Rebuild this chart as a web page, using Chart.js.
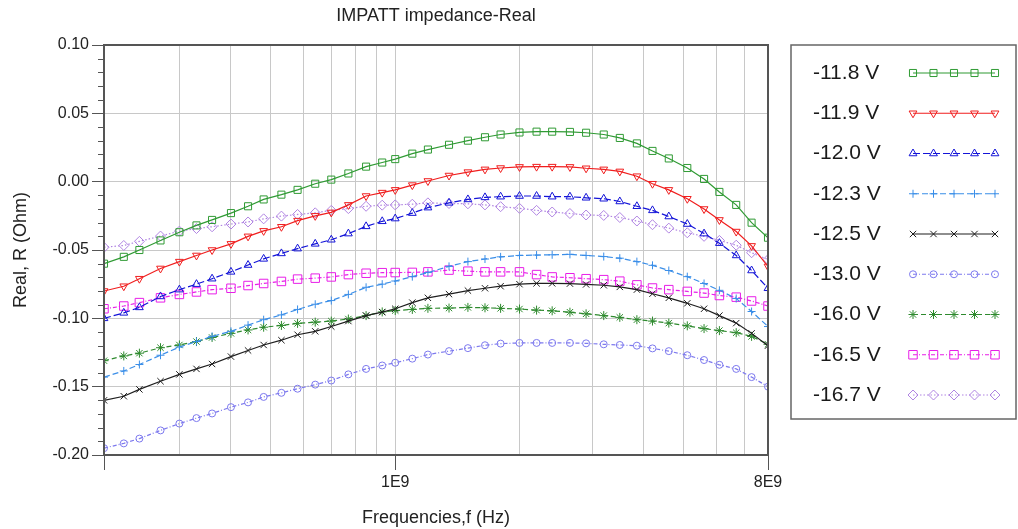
<!DOCTYPE html>
<html>
<head>
<meta charset="utf-8">
<script src="https://cdn.jsdelivr.net/npm/chart.js@4.4.1/dist/chart.umd.min.js"></script>
<style>
  html, body { margin: 0; padding: 0; background: #fff; }
  #wrap { width: 1018px; height: 529px; }
</style>
</head>
<body>
<div id="wrap"><canvas id="impChart" width="1018" height="529"></canvas></div>
<script>
// Frequencies (Hz)
const freqs = [1.97e8, 2.2e8, 2.4e8, 2.7e8, 3.0e8, 3.3e8, 3.6e8, 4.0e8, 4.4e8, 4.8e8,
               5.3e8, 5.8e8, 6.4e8, 7.0e8, 7.7e8, 8.5e8, 9.3e8, 1.0e9, 1.1e9, 1.2e9,
               1.35e9, 1.5e9, 1.65e9, 1.8e9, 2.0e9, 2.2e9, 2.4e9, 2.65e9, 2.9e9, 3.2e9,
               3.5e9, 3.85e9, 4.2e9, 4.6e9, 5.1e9, 5.6e9, 6.1e9, 6.7e9, 7.3e9, 8.0e9];

// Real part R (Ohm) for each bias voltage
const r118 = [-0.060, -0.055, -0.050, -0.043, -0.037, -0.032, -0.028, -0.023, -0.018, -0.013,
              -0.0095, -0.006, -0.0015, 0.0015, 0.006, 0.011, 0.014, 0.0165, 0.0205, 0.0235,
              0.027, 0.030, 0.0325, 0.0345, 0.036, 0.0366, 0.0366, 0.0364, 0.0358, 0.0345,
              0.032, 0.028, 0.0225, 0.017, 0.010, 0.002, -0.0075, -0.017, -0.030, -0.041];
const r119 = [-0.080, -0.0765, -0.071, -0.0635, -0.0585, -0.054, -0.050, -0.0455, -0.040, -0.036,
              -0.033, -0.0285, -0.025, -0.0225, -0.017, -0.0105, -0.008, -0.006, -0.0025, 0.0005,
              0.0045, 0.007, 0.009, 0.010, 0.0108, 0.011, 0.011, 0.0108, 0.0098, 0.009,
              0.0075, 0.004, -0.0015, -0.006, -0.0125, -0.020, -0.028, -0.0365, -0.047, -0.062];
const r120 = [-0.100, -0.096, -0.092, -0.084, -0.079, -0.075, -0.071, -0.066, -0.061, -0.0565,
              -0.0525, -0.049, -0.0455, -0.0425, -0.038, -0.0327, -0.029, -0.027, -0.023, -0.019,
              -0.0155, -0.013, -0.0115, -0.011, -0.0105, -0.0105, -0.011, -0.011, -0.0118, -0.0125,
              -0.0145, -0.018, -0.021, -0.0255, -0.031, -0.038, -0.045, -0.054, -0.065, -0.078];
const r123 = [-0.143, -0.1385, -0.1338, -0.127, -0.121, -0.117, -0.1132, -0.1095, -0.105, -0.101,
              -0.0975, -0.0935, -0.0897, -0.087, -0.0825, -0.0773, -0.075, -0.0727, -0.0695, -0.0665,
              -0.062, -0.0585, -0.0566, -0.055, -0.054, -0.0537, -0.0535, -0.0532, -0.054, -0.0548,
              -0.056, -0.0585, -0.0612, -0.065, -0.0695, -0.0745, -0.0795, -0.0855, -0.095, -0.106];
const r125 = [-0.160, -0.157, -0.152, -0.146, -0.141, -0.137, -0.1334, -0.128, -0.1235, -0.1195,
              -0.116, -0.112, -0.1095, -0.106, -0.102, -0.098, -0.0955, -0.093, -0.0885, -0.085,
              -0.0823, -0.0797, -0.078, -0.0765, -0.075, -0.0744, -0.0744, -0.0746, -0.0752, -0.0758,
              -0.077, -0.079, -0.082, -0.085, -0.089, -0.093, -0.098, -0.1035, -0.111, -0.120];
const r130 = [-0.195, -0.1915, -0.188, -0.182, -0.177, -0.173, -0.1696, -0.165, -0.1615, -0.1575,
              -0.1545, -0.1515, -0.1485, -0.1455, -0.141, -0.137, -0.1345, -0.1325, -0.1295, -0.1265,
              -0.124, -0.1218, -0.1197, -0.1185, -0.118, -0.118, -0.118, -0.118, -0.1183, -0.119,
              -0.1195, -0.120, -0.122, -0.124, -0.127, -0.1305, -0.134, -0.137, -0.143, -0.150];
const r160 = [-0.131, -0.1275, -0.1255, -0.1215, -0.1195, -0.117, -0.114, -0.111, -0.1085, -0.1065,
              -0.1052, -0.1037, -0.1028, -0.102, -0.1005, -0.098, -0.0953, -0.0943, -0.0935, -0.0927,
              -0.0925, -0.092, -0.0923, -0.0927, -0.0932, -0.094, -0.0945, -0.0955, -0.0967, -0.098,
              -0.0993, -0.101, -0.102, -0.1035, -0.1055, -0.1075, -0.109, -0.1105, -0.1132, -0.119];
const r165 = [-0.093, -0.091, -0.0885, -0.085, -0.0825, -0.0807, -0.079, -0.078, -0.076, -0.0745,
              -0.073, -0.0713, -0.0706, -0.0697, -0.068, -0.067, -0.0666, -0.0665, -0.0664, -0.066,
              -0.0647, -0.0655, -0.066, -0.066, -0.066, -0.068, -0.0697, -0.0703, -0.071, -0.0717,
              -0.0728, -0.0755, -0.0778, -0.079, -0.0803, -0.0815, -0.0833, -0.0845, -0.0873, -0.091];
const r167 = [-0.048, -0.0467, -0.0437, -0.0398, -0.0362, -0.0343, -0.033, -0.031, -0.0295, -0.0272,
              -0.0252, -0.024, -0.0228, -0.021, -0.0197, -0.018, -0.0172, -0.017, -0.0165, -0.0155,
              -0.016, -0.0162, -0.017, -0.0183, -0.0195, -0.021, -0.0222, -0.0233, -0.0244, -0.0247,
              -0.0262, -0.0288, -0.0315, -0.034, -0.0374, -0.040, -0.043, -0.0465, -0.052, -0.057];

const seriesLabels = ['-11.8 V', '-11.9 V', '-12.0 V', '-12.3 V', '-12.5 V',
                      '-13.0 V', '-16.0 V', '-16.5 V', '-16.7 V'];

// x axis: grid at every 1..9 multiple, labels only at two of them
const xGridValues = [1.97e8, 3e8, 4e8, 5e8, 6e8, 7e8, 8e8, 9e8, 1e9, 2e9, 3e9, 4e9, 5e9, 6e9, 7e9, 8e9];
const xLabelValues = [1e9, 8e9];
const xLabelText = ['1E9', '8E9'];
const xTickMarks = [1.97e8, 1e9, 8e9];

const FONT = "'Liberation Sans', Arial, Helvetica, sans-serif";
const AXIS = '#555555';
const GRID = '#c8c8c8';

function near(a, b) { return Math.abs(a - b) <= Math.abs(b) * 1e-6 + 1e-12; }
function isMajorY(v) { return Math.abs(v / 0.05 - Math.round(v / 0.05)) < 1e-6; }

function makeSet(label, values, color, style, radius, dash, rotation) {
    return {
        label: label,
        data: freqs.map((f, i) => ({ x: f, y: values[i] })),
        borderColor: color,
        borderWidth: 1.2,
        borderDash: dash,
        pointStyle: style,
        pointRadius: radius,
        pointRotation: rotation || 0,
        pointBorderColor: color,
        pointBackgroundColor: 'rgba(255,255,255,0)',
        pointBorderWidth: 1,
        tension: 0,
        fill: false
    };
}

const datasets = [
    makeSet(seriesLabels[0], r118, '#2f9a33', 'rect', 5, []),
    makeSet(seriesLabels[1], r119, '#f01e1e', 'triangle', 4.5, [], 180),
    makeSet(seriesLabels[2], r120, '#1414d8', 'triangle', 4.5, [7, 3]),
    makeSet(seriesLabels[3], r123, '#3a8ee8', 'cross', 4, [6, 3]),
    makeSet(seriesLabels[4], r125, '#1e1e1e', 'crossRot', 4.5, []),
    makeSet(seriesLabels[5], r130, '#7d79ee', 'circle', 3.5, [4, 2, 1, 2]),
    makeSet(seriesLabels[6], r160, '#2e8a2e', 'star', 4.5, [5, 3]),
    makeSet(seriesLabels[7], r165, '#e81ee8', 'rect', 6, [4, 2, 1, 2]),
    makeSet(seriesLabels[8], r167, '#b084e2', 'rectRot', 5, [1.5, 2])
];

// title over the plot area, frame, minor y ticks, legend box
const decorPlugin = {
    id: 'decor',
    afterDraw(chart) {
        const ctx = chart.ctx;
        const a = chart.chartArea;
        ctx.save();

        // title
        ctx.fillStyle = '#222';
        ctx.font = '18px ' + FONT;
        ctx.textAlign = 'center';
        ctx.textBaseline = 'middle';
        ctx.fillText('IMPATT impedance-Real', (a.left + a.right) / 2, 16);

        // plot frame
        ctx.strokeStyle = AXIS;
        ctx.lineWidth = 2;
        ctx.strokeRect(a.left, a.top, a.right - a.left, a.bottom - a.top);

        // minor y ticks
        const ys = chart.scales.y;
        ctx.lineWidth = 1;
        ys.ticks.forEach(t => {
            if (isMajorY(t.value)) return;
            const py = Math.round(ys.getPixelForValue(t.value)) + 0.5;
            ctx.beginPath();
            ctx.moveTo(a.left - 6, py);
            ctx.lineTo(a.left, py);
            ctx.stroke();
        });

        // legend
        const box = { left: 791, top: 45, right: 1016, bottom: 419 };
        ctx.strokeStyle = '#666';
        ctx.lineWidth = 1.5;
        ctx.strokeRect(box.left, box.top, box.right - box.left, box.bottom - box.top);

        chart.data.datasets.forEach((ds, i) => {
            const y = 73 + i * 40.25;
            ctx.fillStyle = '#1a1a1a';
            ctx.font = '21px ' + FONT;
            ctx.textAlign = 'left';
            ctx.textBaseline = 'middle';
            ctx.fillText(ds.label, 813, y);

            const x0 = 913, x1 = 995;
            ctx.strokeStyle = ds.borderColor;
            ctx.lineWidth = 1.2;
            ctx.setLineDash(ds.borderDash || []);
            ctx.beginPath();
            ctx.moveTo(x0, y);
            ctx.lineTo(x1, y);
            ctx.stroke();
            ctx.setLineDash([]);

            ctx.fillStyle = 'rgba(255,255,255,0)';
            ctx.lineWidth = 1;
            for (let k = 0; k < 5; k++) {
                const px = x0 + k * (x1 - x0) / 4;
                Chart.helpers.drawPoint(ctx, {
                    pointStyle: ds.pointStyle,
                    rotation: ds.pointRotation,
                    radius: ds.pointRadius,
                    borderWidth: 1
                }, px, y);
            }
        });
        ctx.restore();
    }
};

new Chart(document.getElementById('impChart'), {
    type: 'line',
    data: { datasets: datasets },
    options: {
        responsive: false,
        animation: false,
        devicePixelRatio: 1,
        layout: { padding: { top: 45, right: 250, left: 0, bottom: 0 } },
        plugins: {
            legend: { display: false },
            title: { display: false },
            tooltip: { enabled: false }
        },
        scales: {
            x: {
                type: 'logarithmic',
                min: 1.97e8,
                max: 8e9,
                afterBuildTicks: s => { s.ticks = xGridValues.map(v => ({ value: v })); },
                afterFit: s => { s.height = 74; },
                border: { display: false },
                grid: {
                    color: GRID,
                    lineWidth: 1,
                    tickLength: 15,
                    tickColor: c => xTickMarks.some(v => near(c.tick.value, v)) ? AXIS : 'rgba(0,0,0,0)'
                },
                ticks: {
                    autoSkip: false,
                    maxRotation: 0,
                    padding: 3,
                    color: '#222',
                    font: { family: FONT, size: 16 },
                    callback: v => {
                        const i = xLabelValues.findIndex(lv => near(v, lv));
                        return i >= 0 ? xLabelText[i] : '';
                    }
                },
                title: {
                    display: true,
                    text: 'Frequencies,f (Hz)',
                    color: '#222',
                    font: { family: FONT, size: 18 },
                    padding: { top: 0, bottom: 0 }
                }
            },
            y: {
                type: 'linear',
                min: -0.2,
                max: 0.1,
                afterFit: s => { s.width = 104; },
                border: { display: false },
                grid: {
                    color: c => isMajorY(c.tick.value) ? GRID : 'rgba(0,0,0,0)',
                    lineWidth: 1,
                    tickLength: 12,
                    tickColor: c => isMajorY(c.tick.value) ? AXIS : 'rgba(0,0,0,0)'
                },
                ticks: {
                    stepSize: 0.01,
                    autoSkip: false,
                    padding: 3,
                    color: '#222',
                    font: { family: FONT, size: 16 },
                    callback: v => {
                        if (!isMajorY(v)) return '';
                        return Math.abs(v) < 1e-9 ? '0.00' : v.toFixed(2);
                    }
                },
                title: {
                    display: true,
                    text: 'Real, R (Ohm)',
                    color: '#222',
                    font: { family: FONT, size: 18 },
                    padding: { top: 10, bottom: 0 }
                }
            }
        }
    },
    plugins: [decorPlugin]
});
</script>
</body>
</html>
